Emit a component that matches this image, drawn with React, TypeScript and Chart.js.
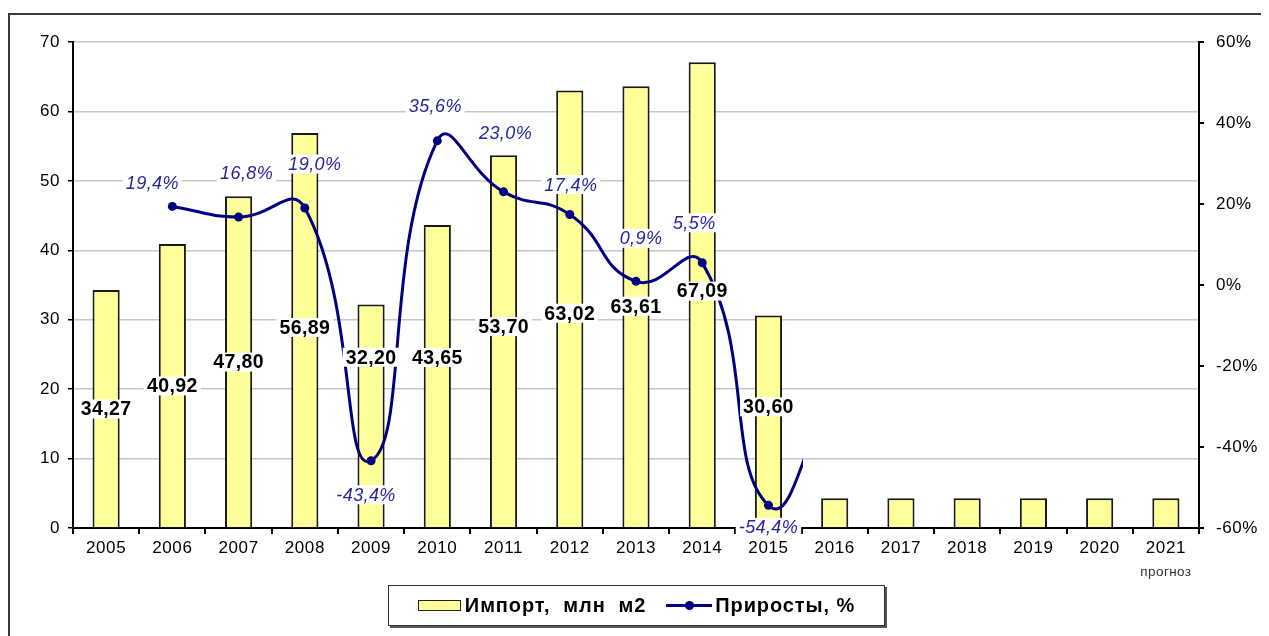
import React, { useEffect, useRef } from "react";
import { Chart, registerables } from "chart.js";

Chart.register(...registerables);

// ---- data ----
const years = ["2005", "2006", "2007", "2008", "2009", "2010", "2011", "2012", "2013", "2014", "2015", "2016", "2017", "2018", "2019", "2020", "2021"];
const importActual = [34.27, 40.92, 47.8, 56.89, 32.2, 43.65, 53.7, 63.02, 63.61, 67.09, 30.6];
const importForecast = [4.3, 4.3, 4.3, 4.3, 4.3, 4.3];
const growthActual = [null, 19.4, 16.8, 19.0, -43.4, 35.6, 23.0, 17.4, 0.9, 5.5, -54.4];
const growthContinuation = [-25];
const leftTicks = [0, 10, 20, 30, 40, 50, 60, 70];
const rightTicks = [-60, -40, -20, 0, 20, 40, 60];
const forecastNote = "прогноз";
const legendImport = "Импорт,  млн  м2";
const legendGrowth = "Приросты, %";

// ---- label placement (style) ----
const barLabelDy = [0, 0, 0, -3, -59, -19, -15, 4, -1, -4, -15];
const lineLabelDx = [0, -20, 8, 10, -5, -2, 2, 1, 5, -8, 0];
const lineLabelDy = [0, -23, -44, -44, 34, -35, -59, -30, -43, -40, 22];

const FONT = "'Liberation Sans', Arial, sans-serif";

const importData = [...importActual, ...importForecast];
const growthData: (number | null)[] = [
  ...growthActual,
  ...growthContinuation,
  ...new Array(years.length - growthActual.length - growthContinuation.length).fill(null),
];

function drawBoxText(ctx: CanvasRenderingContext2D, text: string, x: number, y: number, font: string, color: string) {
  ctx.font = font;
  const w = ctx.measureText(text).width;
  const h = 19;
  ctx.fillStyle = "#fff";
  ctx.fillRect(x - w / 2 - 3, y - h / 2, w + 6, h);
  ctx.fillStyle = color;
  ctx.textAlign = "center";
  ctx.textBaseline = "middle";
  ctx.fillText(text, x, y + 1);
}

const spacingPlugin = {
  id: "spacing",
  beforeDraw(chart: any) {
    (chart.ctx as any).letterSpacing = "0.6px";
  },
};

const clipPlugin = {
  id: "lineClip",
  beforeDatasetDraw(chart: any, args: any) {
    if (args.index !== 1) return;
    const ctx = chart.ctx;
    const a = chart.chartArea;
    const xs = chart.scales.x;
    const cut = xs.getPixelForValue(growthActual.length - 1) + (xs.getPixelForValue(1) - xs.getPixelForValue(0)) * 0.52;
    ctx.save();
    ctx.beginPath();
    ctx.rect(a.left - 10, a.top - 10, cut - a.left + 10, a.bottom - a.top + 20);
    ctx.clip();
  },
  afterDatasetDraw(chart: any, args: any) {
    if (args.index !== 1) return;
    chart.ctx.restore();
  },
};

const labelPlugin = {
  id: "valueLabels",
  afterDatasetsDraw(chart: any) {
    const ctx: CanvasRenderingContext2D = chart.ctx;
    const ys = chart.scales.y;
    const xs = chart.scales.x;
    const barMeta = chart.getDatasetMeta(0);
    ctx.save();
    (ctx as any).letterSpacing = "0.4px";
    importActual.forEach((v, i) => {
      const el = barMeta.data[i];
      const y = ys.getPixelForValue(v / 2) + barLabelDy[i];
      drawBoxText(ctx, v.toFixed(2).replace(".", ","), el.x, y, `bold 19.5px ${FONT}`, "#000");
    });
    const lineMeta = chart.getDatasetMeta(1);
    growthActual.forEach((v, i) => {
      if (v === null) return;
      const el = lineMeta.data[i];
      const txt = v.toFixed(1).replace(".", ",") + "%";
      drawBoxText(ctx, txt, el.x + lineLabelDx[i], el.y + lineLabelDy[i], `italic 18px ${FONT}`, "#26269a");
    });
    ctx.font = `13.5px ${FONT}`;
    ctx.fillStyle = "#333";
    ctx.textAlign = "center";
    ctx.textBaseline = "middle";
    ctx.fillText(forecastNote, xs.getPixelForValue(years.length - 1), chart.chartArea.bottom + 44);
    ctx.restore();
  },
};

export default function App() {
  const ref = useRef<HTMLCanvasElement>(null);
  useEffect(() => {
    if (!ref.current) return;
    const tickFont = { family: FONT, size: 17 };
    const chart = new Chart(ref.current, {
      type: "bar",
      data: {
        labels: years,
        datasets: [
          {
            type: "bar",
            label: legendImport,
            data: importData,
            backgroundColor: "#FFFF99",
            borderColor: "#1a1a1a",
            borderWidth: { top: 2, left: 2, right: 2, bottom: 0 } as any,
            borderSkipped: "bottom",
            barPercentage: 0.41,
            categoryPercentage: 1,
            yAxisID: "y",
            order: 2,
          },
          {
            type: "line",
            label: legendGrowth,
            data: growthData,
            borderColor: "#000080",
            backgroundColor: "#000080",
            borderWidth: 3,
            pointRadius: 4.5,
            pointBackgroundColor: "#000080",
            pointBorderWidth: 0,
            tension: 0.5,
            spanGaps: false,
            yAxisID: "y1",
            order: 1,
          } as any,
        ],
      },
      options: {
        responsive: false,
        animation: false,
        devicePixelRatio: 1,
        layout: { padding: { top: 34, left: 0, right: 0, bottom: 0 } },
        plugins: { legend: { display: false }, tooltip: { enabled: false } },
        scales: {
          x: {
            type: "category",
            offset: true,
            grid: { offset: true, drawOnChartArea: false, drawTicks: true, tickLength: 6, tickColor: "#000", lineWidth: 2 },
            border: { color: "#000", width: 2 },
            ticks: { color: "#000", font: tickFont, padding: 4, maxRotation: 0, autoSkip: false },
            afterFit: (s: any) => { s.height = 108; },
          },
          y: {
            position: "left",
            min: 0,
            max: 70,
            afterBuildTicks: (s: any) => { s.ticks = leftTicks.map((v) => ({ value: v })); },
            grid: { color: "#c8c8c8", lineWidth: 1.5, tickColor: "#000", tickLength: 5, drawTicks: true },
            border: { color: "#000", width: 2 },
            ticks: { color: "#000", font: tickFont, padding: 8 },
            afterFit: (s: any) => { s.width = 65; },
          },
          y1: {
            position: "right",
            min: -60,
            max: 60,
            afterBuildTicks: (s: any) => { s.ticks = rightTicks.map((v) => ({ value: v })); },
            grid: { drawOnChartArea: false, tickColor: "#000", tickLength: 5, lineWidth: 2 },
            border: { color: "#000", width: 2 },
            ticks: { color: "#000", font: tickFont, padding: 12, callback: (v: any) => `${v}%` },
            afterFit: (s: any) => { s.width = 70; },
          },
        },
      },
      plugins: [spacingPlugin, clipPlugin, labelPlugin],
    } as any);
    return () => chart.destroy();
  }, []);

  return (
    <div style={{ position: "relative", width: 1261, height: 628, overflow: "hidden", fontFamily: FONT }}>
      <div
        style={{
          position: "absolute",
          left: 0,
          top: 5,
          width: 1320,
          height: 700,
          border: "2px solid #3a3a3a",
          boxSizing: "border-box",
        }}
      />
      <canvas ref={ref} width={1261} height={628} style={{ position: "absolute", left: 0, top: 0 }} />
      <div
        style={{
          position: "absolute",
          left: 380,
          top: 577,
          width: 497,
          height: 41,
          boxSizing: "border-box",
          border: "1.5px solid #333",
          boxShadow: "2px 2px 0 #555",
          background: "#fff",
          display: "flex",
          alignItems: "center",
          justifyContent: "center",
          fontWeight: "bold",
          fontSize: 20,
          letterSpacing: "0.9px",
          color: "#000",
          whiteSpace: "pre",
        }}
      >
        <span style={{ display: "inline-block", width: 41, height: 9, background: "#FFFF99", border: "1.5px solid #222", marginRight: 4 }} />
        <span>{legendImport}</span>
        <span style={{ display: "inline-block", position: "relative", width: 46, height: 10, marginLeft: 20, marginRight: 3 }}>
          <span style={{ position: "absolute", left: 0, right: 0, top: 3.5, height: 3, background: "#000080" }} />
          <span style={{ position: "absolute", left: 18.5, top: 0.5, width: 9, height: 9, borderRadius: "50%", background: "#000080" }} />
        </span>
        <span>{legendGrowth}</span>
      </div>
    </div>
  );
}
